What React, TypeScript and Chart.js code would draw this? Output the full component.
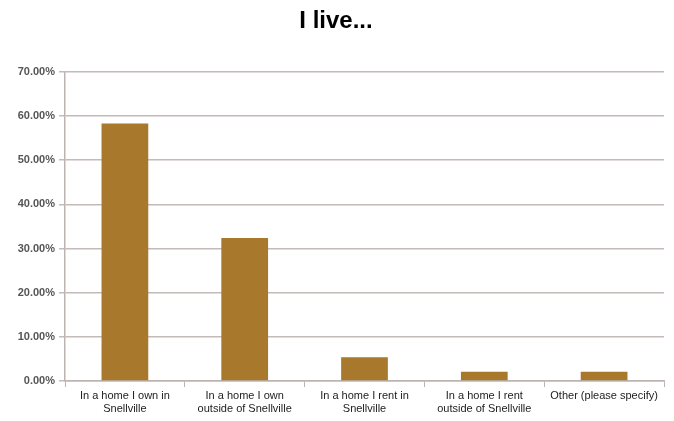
import React, { useEffect, useRef } from "react";
import { Chart, registerables } from "chart.js";

Chart.register(...registerables);

const categories: (string | string[])[] = [
  ["In a home I own in", "Snellville"],
  ["In a home I own", "outside of Snellville"],
  ["In a home I rent in", "Snellville"],
  ["In a home I rent", "outside of Snellville"],
  "Other (please specify)",
];
const values = [58.3, 32.4, 5.4, 2.1, 2.1];
const yTicks = [0, 10, 20, 30, 40, 50, 60, 70];
const titleText = "I live...";

export default function App() {
  const ref = useRef<HTMLCanvasElement>(null);
  useEffect(() => {
    if (!ref.current) return;
    const chart = new Chart(ref.current, {
      type: "bar",
      data: {
        labels: categories,
        datasets: [
          {
            data: values,
            backgroundColor: "#A8792C",
            borderWidth: 0,
            categoryPercentage: 1,
            barPercentage: 0.39,
          },
        ],
      },
      options: {
        animation: false,
        responsive: false,
        maintainAspectRatio: false,
        layout: { padding: { left: 8, right: 10, top: 6, bottom: 4 } },
        plugins: {
          legend: { display: false },
          tooltip: { enabled: false },
          title: {
            display: true,
            text: titleText,
            color: "#000",
            font: { family: "Liberation Sans, Arial, sans-serif", size: 24, weight: "bold" },
            padding: { top: 1, bottom: 36 },
          },
        },
        scales: {
          x: {
            offset: true,
            grid: {
              offset: true,
              drawOnChartArea: false,
              drawTicks: true,
              tickLength: 6,
              color: "#BDB3B1",
            },
            border: { color: "#BDB3B1", width: 1.5 },
            ticks: {
              color: "#222",
              font: { family: "Liberation Sans, Arial, sans-serif", size: 11 },
              maxRotation: 0,
              autoSkip: false,
              padding: 2,
            },
            afterFit: (s: any) => {
              s.height = 36;
            },
          },
          y: {
            min: 0,
            max: 70,
            afterBuildTicks: (s: any) => {
              s.ticks = yTicks.map((v) => ({ value: v }));
            },
            grid: {
              color: "#C4BAB8",
              lineWidth: 1.5,
              tickLength: 6,
            },
            border: { color: "#BDB3B1", width: 1.5 },
            ticks: {
              color: "#555",
              font: { family: "Liberation Sans, Arial, sans-serif", size: 11, weight: "bold" },
              padding: 4,
              callback: (v: any) => `${Number(v).toFixed(2)}%`,
            },
            afterFit: (s: any) => {
              s.width = 57;
            },
          },
        },
      },
    });
    return () => chart.destroy();
  }, []);
  return (
    <div style={{ position: "fixed", left: 0, top: 0, width: 674, height: 421, background: "#fff" }}>
      <canvas ref={ref} width={674} height={421} style={{ width: 674, height: 421 }} />
    </div>
  );
}
